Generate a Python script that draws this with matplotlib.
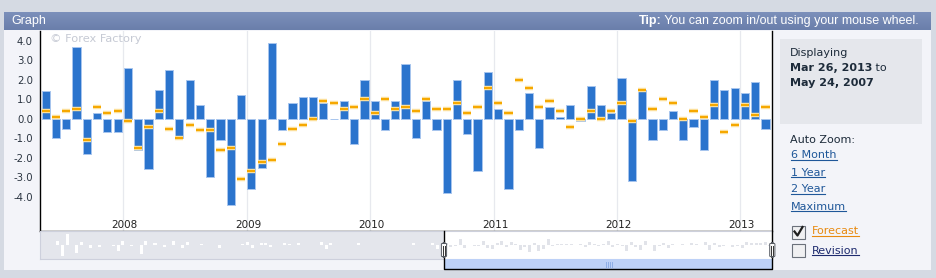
import numpy as np
import pandas as pd
import matplotlib
matplotlib.use("Agg")
import matplotlib.pyplot as plt
from matplotlib.patches import Rectangle, FancyBboxPatch
from matplotlib.lines import Line2D
from matplotlib.transforms import blended_transform_factory

W, H = 936, 278

# monthly releases shown in the main view
months = pd.date_range("2007-05-01", "2013-03-01", freq="MS")
actual = [1.4, -1.0, -0.5, 3.7, -1.8, 0.3, -0.7, -0.7, 2.6, -1.6,
          -2.6, 1.5, 2.5, -1.0, 2.0, 0.7, -3.0, -1.1, -4.4, 1.2,
          -3.6, -2.5, 3.9, -0.6, 0.8, 1.1, 1.1, 0.8, 0.0, 0.9,
          -1.3, 2.0, 0.9, -0.6, 0.9, 2.8, -1.0, 0.9, -0.6, -3.8,
          2.0, -0.8, -2.7, 2.4, 0.5, -3.6, -0.6, 1.3, -1.5, 0.6,
          0.1, 0.7, -0.1, 1.7, 0.7, 0.3, 2.1, -3.2, 1.5, -1.1,
          -0.6, 0.4, -1.1, -0.4, -1.6, 2.0, 1.5, 1.6, 1.3, 1.9, -0.5]
forecast = [0.4, 0.1, 0.4, 0.5, -1.1, 0.6, 0.3, 0.4, -0.1, -1.5,
            -0.4, 0.4, -0.5, -1.0, -0.3, -0.6, -0.6, -1.6, -1.5, -3.1,
            -2.7, -2.2, -2.1, -1.3, -0.5, -0.3, 0.0, 0.9, 0.8, 0.5,
            0.6, 1.0, 0.3, 1.0, 0.5, 0.6, 0.4, 1.0, 0.5, 0.5,
            0.8, 0.3, 0.6, 1.6, 0.8, 0.3, 2.0, 1.6, 0.6, 0.9,
            0.4, -0.4, 0.0, 0.4, 0.0, 0.4, 0.8, -0.1, 1.5, 0.5,
            1.0, 0.8, 0.0, 0.4, 0.1, 0.7, -0.7, -0.3, 0.7, 0.2, 0.6]

# older history, only visible in the navigator strip
early = [0.2, 0.1, 0.3, 2.8, -6.5, 6.8, 0.3, -4.5, 2.2, 0.4,
         -1.8, 0.2, -0.8, 0.2, 0.3, -0.3, -3.5, 2.6, 0.3, -0.4,
         0.2, -5.2, 2.8, 0.3, 1.2, 0.2, -0.9, 0.2, 2.4, 0.3,
         -1.5, 2.0, 0.3, 0.2, 1.0, 0.3, 0.2, 0.5, -1.6, 0.2,
         0.3, 0.2, 0.3, 1.0, 1.8, -1.4, 0.3, 1.6, 1.2, -1.2,
         0.3, 0.2, 1.2, 0.8, 0.2, 1.6, 0.3, 0.2, 0.3, 0.2,
         1.8, -2.2, 1.6, 0.3, 0.2, 0.3, 0.2, 0.3, 1.4, 0.2,
         0.3, 0.2, 0.3, 0.2, 0.3, 0.2, 0.3, 0.2, 0.3, 0.2,
         1.4, 0.3, 0.2, 0.3, 1.6, -2.0, 0.3]

years = [2008, 2009, 2010, 2011, 2012, 2013]
yticks = [4, 3, 2, 1, 0, -1, -2, -3, -4]
ylabels = ["4.0", "3.0", "2.0", "1.0", "0.0", "-1.0", "-2.0", "-3.0", "-4.0"]
zoom_links = ["6 Month", "1 Year", "2 Year", "Maximum"]

BAR = "#2b74cd"
BAR_EDGE = "#a7c5ee"
FC = "#f6a800"
TEXT = "#1d2b3a"
LINK = "#1f5799"


def fx(x):
    return x / W


def fy(y):
    return 1 - y / H


def rect(x0, y0, x1, y1, **kw):
    p = Rectangle((fx(x0), fy(y1)), (x1 - x0) / W, (y1 - y0) / H,
                  transform=fig.transFigure, **kw)
    fig.add_artist(p)
    return p


def line(xs, ys, **kw):
    fig.add_artist(Line2D([fx(v) for v in xs], [fy(v) for v in ys],
                          transform=fig.transFigure, **kw))


fig = plt.figure(figsize=(W / 100, H / 100), dpi=100)
fig.patch.set_facecolor("#d5dae3")

# panel body and title bar
rect(4, 30, 931, 270, facecolor="#f3f4f9", edgecolor="none", zorder=0)
tb = fig.add_axes([fx(4), fy(30), 927 / W, 18 / H])
grad = np.linspace(0, 1, 18).reshape(-1, 1)
tb.imshow(grad, aspect="auto", cmap=matplotlib.colors.LinearSegmentedColormap.from_list(
    "tb", ["#7b8fba", "#6a7fab"]), extent=[0, 1, 0, 1], origin="upper")
tb.set_axis_off()
fig.text(fx(11), fy(21), "Graph", color="white", fontsize=9,
         family="Liberation Sans", va="center", ha="left")
tip = fig.text(fx(919), fy(21), " You can zoom in/out using your mouse wheel.",
               color="white", fontsize=9, family="Liberation Sans",
               va="center", ha="right")

# main chart
ax = fig.add_axes([fx(40), fy(231.3), 732.3 / W, 200.3 / H])
ax.set_facecolor("white")
xpos = np.array([d.year + (d.month - 1 + 0.45) / 12 for d in months])
bw = 8.2 / 123.4
ax.bar(xpos, actual, width=bw, color=BAR, edgecolor=BAR_EDGE,
       linewidth=0.7, zorder=2)
ax.hlines(forecast, xpos - bw / 2, xpos + bw / 2, colors="#fde2a0",
          linewidth=3.2, zorder=3)
ax.hlines(forecast, xpos - bw / 2, xpos + bw / 2, colors=FC,
          linewidth=1.5, zorder=4)
for yr in years:
    ax.axvline(yr, color="#e7e9ee", linewidth=0.9, zorder=0)
ax.set_xlim(2007.325, 2013.259)
ax.set_ylim(-5.77, 4.5)
ax.set_xticks([])
ax.set_yticks(yticks)
ax.set_yticklabels(ylabels)
ax.tick_params(axis="y", length=0, pad=5, labelsize=7.3, labelcolor="#2a3440")
for s in ["top", "right"]:
    ax.spines[s].set_visible(False)
ax.spines["left"].set_color("black")
ax.spines["bottom"].set_color("black")
ax.spines["left"].set_linewidth(1.0)
ax.spines["bottom"].set_linewidth(1.0)
trans = blended_transform_factory(ax.transData, ax.transAxes)
for yr in years:
    ax.text(yr + 0.012, 0.031, str(yr), transform=trans, ha="center",
            va="center", fontsize=7.5, color="#222222")
ax.text(0.0135, 0.96, "\u00a9 Forex Factory", transform=ax.transAxes,
        fontsize=8.2, color="#c6cad4", ha="left", va="center")

# navigator strip
nav = fig.add_axes([fx(40), fy(259.3), 732.3 / W, 28 / H])
nav.set_facecolor("#e4e6ec")
nav.axvspan(-0.5, 70.5, color="white", zorder=0)
ei = np.arange(-len(early), 0)
nav.bar(ei, early, width=0.65, color="white", zorder=1)
nav.bar(np.arange(len(actual)), actual, width=0.65, color="#e1e3e9", zorder=1)
nav.set_xlim(-0.5 - 87.37, 70.5)
nav.set_ylim(-8.75, 8.75)
nav.set_xticks([])
nav.set_yticks([])
for s in nav.spines.values():
    s.set_color("#cdd0dc")
    s.set_linewidth(0.8)

# scrollbar under selected range
rect(444, 259.3, 772.3, 269, facecolor="#bdd1f7", edgecolor="none", zorder=5)
for gx in [606, 608, 610, 612]:
    line([gx, gx], [262, 266.5], color="#8eaee6", linewidth=0.7, zorder=6)

# selection outline
line([444, 444, 772.3, 772.3], [231.3, 269, 269, 31], color="black",
     linewidth=1.0, zorder=7)
for hx in [444, 772.3]:
    fig.add_artist(FancyBboxPatch((fx(hx - 2.6), fy(257)), 5.2 / W, 14 / H,
                                  boxstyle="round,pad=0,rounding_size=0.004",
                                  transform=fig.transFigure, facecolor="#fafafa",
                                  edgecolor="#555a62", linewidth=0.7, zorder=8))
    line([hx - 0.9, hx - 0.9], [245.5, 254.5], color="#333", linewidth=0.7, zorder=9)
    line([hx + 0.9, hx + 0.9], [245.5, 254.5], color="#333", linewidth=0.7, zorder=9)

# side panel
rect(780, 39, 922, 124, facecolor="#e5e7ec", edgecolor="none", zorder=1)
fs = 8
fig.text(fx(790), fy(53), "Displaying", fontsize=fs, color=TEXT, va="center")
d1 = fig.text(fx(790), fy(68), "Mar 26, 2013", fontsize=fs, color=TEXT,
              va="center", weight="bold")
fig.text(fx(790), fy(83), "May 24, 2007", fontsize=fs, color=TEXT,
         va="center", weight="bold")
fig.text(fx(790), fy(140), "Auto Zoom:", fontsize=fs, color=TEXT, va="center")

link_texts = []
for i, lab in enumerate(zoom_links):
    link_texts.append((fig.text(fx(791), fy(155.5 + i * 17), lab, fontsize=fs,
                                color=LINK, va="center"), LINK))

# checkboxes
for cy in [232, 250.5]:
    rect(792, cy - 6.5, 805, cy + 6.5, facecolor="#f0f0f2", edgecolor="#6b717b",
         linewidth=0.8, zorder=3)
line([794.5, 797.5, 802.5], [231.5, 235.5, 227], color="#1e1e1e",
     linewidth=1.6, zorder=4)
link_texts.append((fig.text(fx(812), fy(231.5), "Forecast", fontsize=fs,
                            color="#e88a10", va="center"), "#e88a10"))
link_texts.append((fig.text(fx(812), fy(250.5), "Revision", fontsize=fs,
                            color="#1d2a6e", va="center"), "#1d2a6e"))

# place pieces that depend on measured text widths
fig.canvas.draw()
r = fig.canvas.get_renderer()
bb = tip.get_window_extent(r)
fig.text(bb.x0 / W, fy(21), "Tip:", color="white", fontsize=9,
         family="Liberation Sans", weight="bold", va="center", ha="right")
bb = d1.get_window_extent(r)
fig.text(bb.x1 / W, fy(68), " to", fontsize=fs, color=TEXT, va="center")
for t, c in link_texts:
    bb = t.get_window_extent(r)
    yb = bb.y0 + 0.5
    fig.add_artist(Line2D([bb.x0 / W, bb.x1 / W], [yb / H, yb / H],
                          transform=fig.transFigure, color=c, linewidth=0.8))

fig.savefig("out.png", dpi=100)
